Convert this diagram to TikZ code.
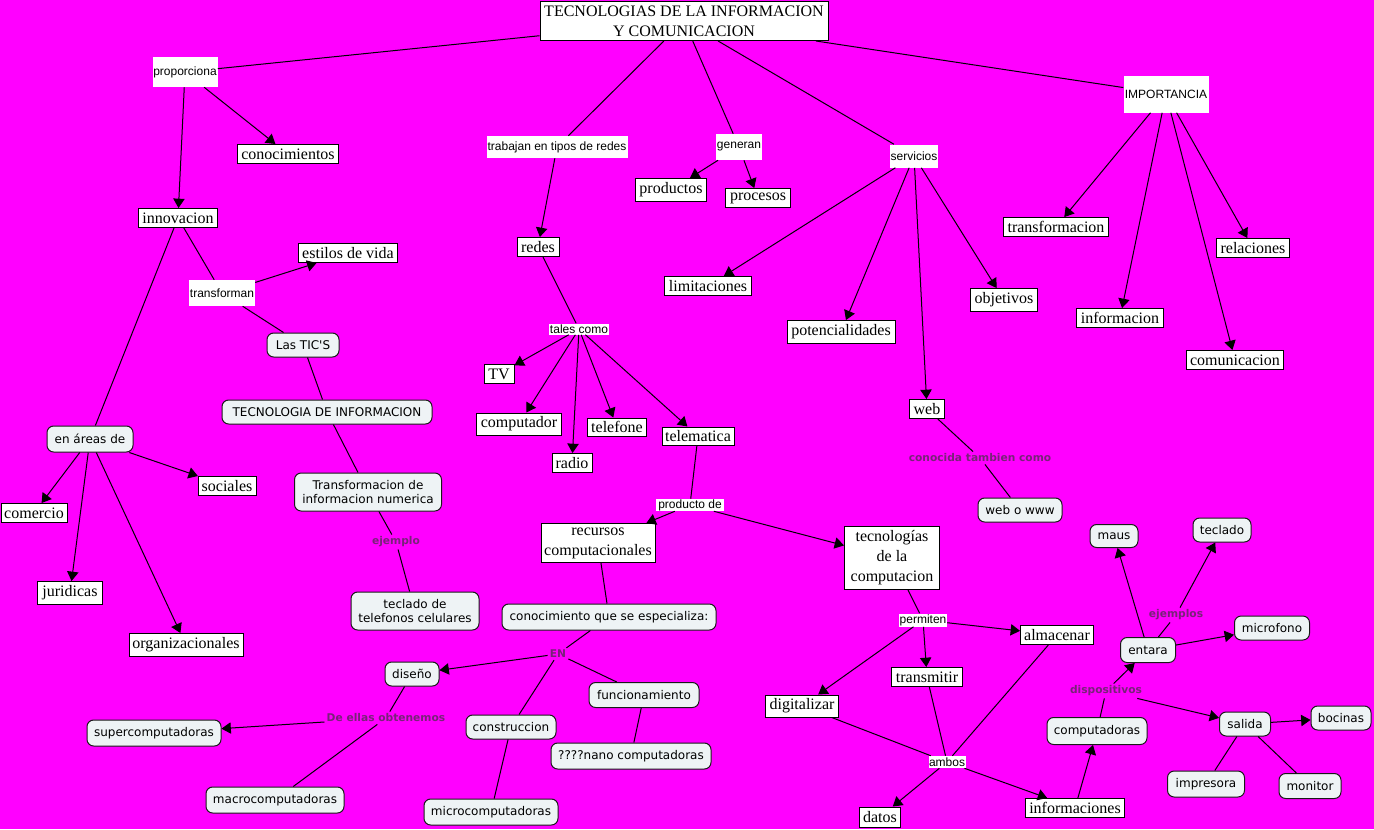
\documentclass[tikz,border=0pt]{standalone}
\usepackage{fontspec}
\setmainfont{Liberation Serif}
\newfontfamily\arialf{Liberation Sans}
\newfontfamily\verdf{DejaVu Sans}
\usetikzlibrary{arrows.meta}
\definecolor{bgmag}{RGB}{255,0,255}
\definecolor{cfill}{RGB}{238,243,245}
\definecolor{lblpurple}{RGB}{120,35,120}
\begin{document}
\begin{tikzpicture}[x=0.75pt,y=-0.75pt,
  wh/.style 2 args={minimum width=#1*0.75pt,minimum height=#2*0.75pt},
  concept/.style={draw=black,fill=white,line width=0.75pt,inner sep=0pt,font=\fontsize{12}{15}\selectfont,align=center},
  rconcept/.style={draw=black!90,fill=cfill,line width=0.75pt,rounded corners=5pt,inner sep=0pt,font=\verdf\fontsize{9}{10.5}\selectfont,align=center},
  link/.style={fill=white,inner sep=0pt,font=\arialf\fontsize{9}{11}\selectfont},
  plink/.style={inner sep=1.5pt,text=lblpurple,font=\verdf\bfseries\fontsize{8}{9.5}\selectfont},
  con/.style={line width=0.75pt},
  arr/.style={line width=0.75pt,-{Triangle[length=7pt,width=8.5pt]}},
]
\fill[bgmag] (0,0) rectangle (1374,829);
\useasboundingbox (0,0) rectangle (1374,829);

% nodes
\node[concept,wh={288}{39}] (title) at (684,21) {TECNOLOGIAS DE LA INFORMACION\\Y COMUNICACION};
\node[link,wh={65}{30}] (prop) at (185,72) {proporciona};
\node[concept,wh={101}{19}] (conoc) at (288,154) {conocimientos};
\node[concept,wh={79}{19}] (innov) at (178,218) {innovacion};
\node[concept,wh={99}{19}] (estilos) at (348,253) {estilos de vida};
\node[link,wh={66}{26}] (transf) at (222,293) {transforman};
\node[rconcept,wh={72}{24}] (tics) at (303,345) {Las TIC'S};
\node[rconcept,wh={210}{24}] (tecinf) at (327,412) {TECNOLOGIA DE INFORMACION};
\node[rconcept,wh={147}{38}] (trnum) at (368,492) {Transformacion de\\informacion numerica};
\node[plink] (ejemplo) at (396,542) {ejemplo};
\node[rconcept,wh={128}{38}] (teclcel) at (415,611) {teclado de\\telefonos celulares};
\node[rconcept,wh={86}{26}] (areas) at (90,439) {en áreas de};
\node[concept,wh={66}{19}] (comercio) at (34,513) {comercio};
\node[concept,wh={58}{19}] (sociales) at (227,486) {sociales};
\node[concept,wh={65}{23}] (juridicas) at (70,593) {juridicas};
\node[concept,wh={114}{23}] (organiz) at (186,645) {organizacionales};

\node[link,wh={141}{22}] (trabajan) at (557,147) {trabajan en tipos de redes};
\node[link,wh={46}{26}] (generan) at (739,147) {generan};
\node[link,wh={48}{23}] (servicios) at (914,156) {servicios};
\node[concept,wh={71}{23}] (productos) at (671,190) {productos};
\node[concept,wh={65}{19}] (procesos) at (758,198) {procesos};
\node[concept,wh={42}{19}] (redes) at (538,247) {redes};
\node[concept,wh={87}{19}] (limit) at (708,286) {limitaciones};
\node[link,wh={85}{37}] (import) at (1166,94) {IMPORTANCIA};
\node[concept,wh={105}{19}] (transfm) at (1056,227) {transformacion};
\node[concept,wh={73}{19}] (relac) at (1253,248) {relaciones};
\node[concept,wh={67}{23}] (objet) at (1004,300) {objetivos};
\node[concept,wh={87}{19}] (inform) at (1120,318) {informacion};
\node[concept,wh={97}{19}] (comun) at (1235,360) {comunicacion};
\node[concept,wh={108}{23}] (potenc) at (841,332) {potencialidades};
\node[concept,wh={35}{19}] (web) at (927,409) {web};
\node[plink] (conocida) at (980,458) {conocida tambien como};
\node[rconcept,wh={84}{24}] (webwww) at (1020,510) {web o www};
\node[link,wh={60}{11}] (tales) at (579,329) {tales como};
\node[concept,wh={30}{19}] (tv) at (499,374) {TV};
\node[concept,wh={85}{22}] (computador) at (519,424) {computador};
\node[concept,wh={40}{19}] (radio) at (572,463) {radio};
\node[concept,wh={59}{18}] (telefone) at (617,427) {telefone};
\node[concept,wh={72}{18}] (telemat) at (698,436) {telematica};
\node[link,wh={68}{12}] (producto) at (690,505) {producto de};
\node[concept,wh={114}{39}] (recursos) at (598,543) {recursos\\computacionales};
\node[rconcept,wh={214}{26}] (especial) at (609,617) {conocimiento que se especializa:};
\node[plink] (en) at (558,654) {EN};
\node[rconcept,wh={110}{25}] (funcion) at (644,695) {funcionamiento};
\node[rconcept,wh={90}{24}] (constr) at (511,727) {construccion};
\node[rconcept,wh={160}{26}] (nano) at (631,756) {????nano computadoras};
\node[rconcept,wh={134}{26}] (micro) at (491,812) {microcomputadoras};
\node[rconcept,wh={54}{24}] (diseno) at (412,674) {diseño};
\node[plink] (deellas) at (386,718) {De ellas obtenemos};
\node[rconcept,wh={134}{26}] (super) at (154,733) {supercomputadoras};
\node[rconcept,wh={138}{26}] (macro) at (275,800) {macrocomputadoras};

\node[concept,wh={95}{63}] (teccomp) at (892,558) {tecnologías\\de la\\computacion};
\node[link,wh={48}{13}] (permiten) at (923,620) {permiten};
\node[concept,wh={73}{19}] (almac) at (1057,635) {almacenar};
\node[concept,wh={71}{19}] (transm) at (927,677) {transmitir};
\node[concept,wh={73}{22}] (digit) at (802,706) {digitalizar};
\node[link,wh={37}{12}] (ambos) at (947,762) {ambos};
\node[concept,wh={41}{20}] (datos) at (880,817) {datos};
\node[concept,wh={99}{19}] (informac) at (1075,808) {informaciones};
\node[rconcept,wh={100}{27}] (computadoras) at (1097,731) {computadoras};
\node[plink] (dispos) at (1106,691) {dispositivos};
\node[rconcept,wh={55}{25}] (entara) at (1148,650) {entara};
\node[plink] (ejemplos) at (1176,615) {ejemplos};
\node[rconcept,wh={48}{23}] (maus) at (1114,536) {maus};
\node[rconcept,wh={58}{24}] (teclado) at (1222,530) {teclado};
\node[rconcept,wh={75}{24}] (microf) at (1272,628) {microfono};
\node[rconcept,wh={51}{24}] (salida) at (1245,724) {salida};
\node[rconcept,wh={60}{24}] (bocinas) at (1341,718) {bocinas};
\node[rconcept,wh={77}{26}] (impres) at (1206,784) {impresora};
\node[rconcept,wh={62}{25}] (monitor) at (1310,786) {monitor};

% connectors
\draw[con] (title) -- (prop);
\draw[arr] (prop) -- (conoc);
\draw[arr] (prop) -- (innov);
\draw[con] (innov) -- (transf);
\draw[arr] (transf) -- (estilos);
\draw[con] (transf) -- (tics);
\draw[con] (tics) -- (tecinf);
\draw[con] (tecinf) -- (trnum);
\draw[con] (trnum) -- (ejemplo);
\draw[con] (ejemplo) -- (teclcel);
\draw[con] (innov) -- (areas);
\draw[arr] (areas) -- (comercio);
\draw[arr] (areas) -- (juridicas);
\draw[arr] (areas) -- (organiz);
\draw[arr] (areas) -- (sociales);

\draw[con] (title) -- (trabajan);
\draw[arr] (trabajan) -- (redes);
\draw[con] (redes) -- (tales);
\draw[arr] (tales) -- (tv);
\draw[arr] (tales) -- (computador);
\draw[arr] (tales) -- (radio);
\draw[arr] (tales) -- (telefone);
\draw[arr] (tales) -- (telemat);
\draw[con] (telemat) -- (producto);
\draw[arr] (producto) -- (recursos);
\draw[arr] (producto) -- (teccomp);
\draw[con] (recursos) -- (especial);
\draw[con] (especial) -- (en);
\draw[arr] (en) -- (diseno);
\draw[con] (en) -- (constr);
\draw[con] (en) -- (funcion);
\draw[con] (funcion) -- (nano);
\draw[con] (constr) -- (micro);
\draw[con] (diseno) -- (deellas);
\draw[arr] (deellas) -- (super);
\draw[con] (deellas) -- (macro);

\draw[con] (title) -- (generan);
\draw[arr] (generan) -- (productos);
\draw[arr] (generan) -- (procesos);
\draw[con] (title) -- (servicios);
\draw[arr] (servicios) -- (limit);
\draw[arr] (servicios) -- (potenc);
\draw[arr] (servicios) -- (web);
\draw[arr] (servicios) -- (objet);
\draw[con] (web) -- (conocida);
\draw[con] (conocida) -- (webwww);
\draw[con] (title) -- (import);
\draw[arr] (import) -- (transfm);
\draw[arr] (import) -- (inform);
\draw[arr] (import) -- (comun);
\draw[arr] (import) -- (relac);

\draw[con] (teccomp) -- (permiten);
\draw[arr] (permiten) -- (almac);
\draw[arr] (permiten) -- (transm);
\draw[arr] (permiten) -- (digit);
\draw[con] (digit) -- (ambos);
\draw[con] (transm) -- (ambos);
\draw[con] (almac) -- (ambos);
\draw[arr] (ambos) -- (datos);
\draw[arr] (ambos) -- (informac);
\draw[arr] (informac) -- (computadoras);
\draw[con] (computadoras) -- (dispos);
\draw[arr] (dispos) -- (entara);
\draw[arr] (dispos) -- (salida);
\draw[arr] (entara) -- (maus);
\draw[con] (entara) -- (ejemplos);
\draw[arr] (ejemplos) -- (teclado);
\draw[arr] (entara) -- (microf);
\draw[arr] (salida) -- (bocinas);
\draw[con] (salida) -- (impres);
\draw[con] (salida) -- (monitor);
\end{tikzpicture}
\end{document}
